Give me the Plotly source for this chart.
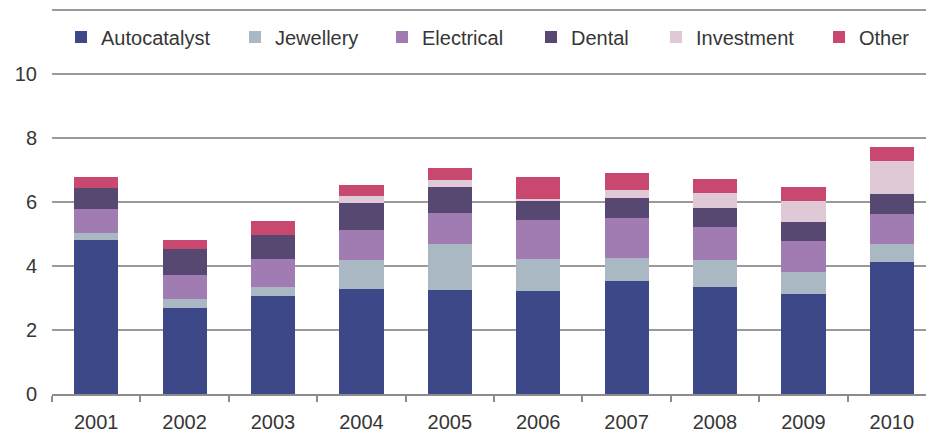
import plotly.graph_objects as go

years = ["2001", "2002", "2003", "2004", "2005", "2006", "2007", "2008", "2009", "2010"]
autocatalyst = [4.80, 2.69, 3.07, 3.28, 3.25, 3.21, 3.54, 3.33, 3.11, 4.11]
jewellery = [0.24, 0.28, 0.26, 0.90, 1.43, 1.00, 0.72, 0.85, 0.69, 0.57]
electrical = [0.73, 0.76, 0.88, 0.93, 0.98, 1.22, 1.23, 1.04, 0.98, 0.95]
dental = [0.67, 0.79, 0.76, 0.86, 0.80, 0.62, 0.64, 0.60, 0.60, 0.60]
investment = [0.0, 0.0, 0.0, 0.21, 0.21, 0.04, 0.23, 0.46, 0.64, 1.04]
other = [0.33, 0.28, 0.43, 0.36, 0.39, 0.68, 0.54, 0.42, 0.44, 0.43]

y_ticks = [0, 2, 4, 6, 8, 10, 12]
y_tick_text = ["0", "2", "4", "6", "8", "10", ""]

series = [
    ("Autocatalyst", autocatalyst, "#3d4888"),
    ("Jewellery", jewellery, "#a9b8c3"),
    ("Electrical", electrical, "#a07cb3"),
    ("Dental", dental, "#574872"),
    ("Investment", investment, "#dfc9d6"),
    ("Other", other, "#c9486f"),
]

# legend text start positions (px) in the page
legend_text_x = [97, 271, 418, 567, 692, 855]

# the page body has an 8px default margin, so the figure is sized to the visible area
OFF = 8
W, H = 934 - OFF, 433 - OFF
FONT = "Liberation Sans, Arial, sans-serif"
TXT = "#363636"

fig = go.Figure()
layout_legends = {}
for i, (name, vals, col) in enumerate(series):
    lname = "legend" if i == 0 else f"legend{i+1}"
    fig.add_trace(go.Bar(
        x=years, y=vals, name=name, marker=dict(color=col, line=dict(width=0)),
        legend=lname, showlegend=True,
    ))
    layout_legends[lname] = dict(
        x=(legend_text_x[i] - OFF - 36) / W, xref="container", xanchor="left",
        y=1 - (37 - OFF) / H, yref="container", yanchor="middle",
        bgcolor="rgba(0,0,0,0)", borderwidth=0,
        font=dict(family=FONT, size=20, color=TXT),
    )

fig.update_layout(
    width=W, height=H,
    barmode="stack", bargap=0.5,
    plot_bgcolor="white", paper_bgcolor="white",
    margin=dict(l=52 - OFF, r=0, t=0, b=39, autoexpand=False),
    font=dict(family=FONT, size=20, color=TXT),
    **layout_legends,
)
fig.update_xaxes(
    type="category",
    range=[-0.5, 9.5 - 2 / 88.4],
    showline=True, linecolor="#8c8c8c", linewidth=2,
    ticks="outside", tickson="boundaries", ticklen=6, tickcolor="#8c8c8c", tickwidth=1.5,
    showgrid=False, ticklabelstandoff=9, automargin=False,
    tickfont=dict(family=FONT, size=20, color=TXT),
)
fig.update_yaxes(
    range=[0, 12.05], tickvals=y_ticks, ticktext=y_tick_text,
    showgrid=True, gridcolor="#9a9a9a", gridwidth=2,
    zeroline=False, showline=False, ticks="", ticklabelstandoff=14, automargin=False,
    tickfont=dict(family=FONT, size=20, color=TXT),
)

fig.write_html("out.html")
